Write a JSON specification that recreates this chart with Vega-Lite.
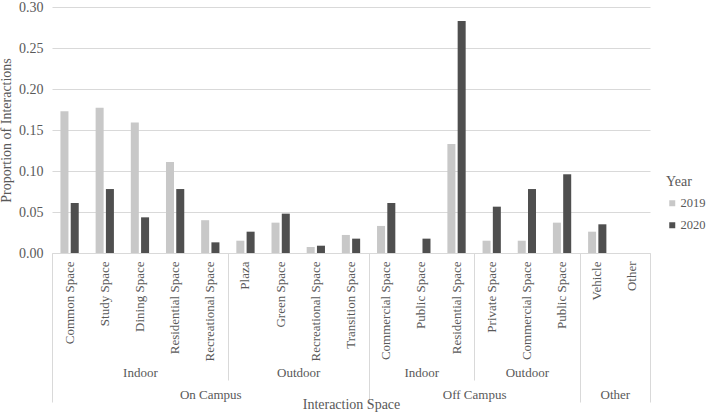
{
  "$schema": "https://vega.github.io/schema/vega-lite/v6.json",
  "width": 598,
  "height": 246,
  "autosize": {"type": "none"},
  "padding": {"left": 52, "top": 7, "right": 58, "bottom": 163},
  "config": {
    "font": "Times New Roman",
    "view": {"stroke": null},
    "axis": {"labelColor": "#595959", "titleColor": "#595959", "labelFont": "Times New Roman", "titleFont": "Times New Roman", "titleFontWeight": "normal", "labelFontSize": 13, "titleFontSize": 14},
    "legend": {"labelColor": "#595959", "titleColor": "#595959", "titleFontWeight": "normal", "labelFont": "Times New Roman", "titleFont": "Times New Roman"}
  },
  "datasets": {
    "bars": [
      {"cat": "On Campus|Indoor|Common Space", "year": "2019", "value": 0.173},
      {"cat": "On Campus|Indoor|Common Space", "year": "2020", "value": 0.061},
      {"cat": "On Campus|Indoor|Study Space", "year": "2019", "value": 0.177},
      {"cat": "On Campus|Indoor|Study Space", "year": "2020", "value": 0.078},
      {"cat": "On Campus|Indoor|Dining Space", "year": "2019", "value": 0.159},
      {"cat": "On Campus|Indoor|Dining Space", "year": "2020", "value": 0.0435},
      {"cat": "On Campus|Indoor|Residential Space", "year": "2019", "value": 0.111},
      {"cat": "On Campus|Indoor|Residential Space", "year": "2020", "value": 0.078},
      {"cat": "On Campus|Indoor|Recreational Space", "year": "2019", "value": 0.040},
      {"cat": "On Campus|Indoor|Recreational Space", "year": "2020", "value": 0.013},
      {"cat": "On Campus|Outdoor|Plaza", "year": "2019", "value": 0.015},
      {"cat": "On Campus|Outdoor|Plaza", "year": "2020", "value": 0.026},
      {"cat": "On Campus|Outdoor|Green Space", "year": "2019", "value": 0.037},
      {"cat": "On Campus|Outdoor|Green Space", "year": "2020", "value": 0.048},
      {"cat": "On Campus|Outdoor|Recreational Space", "year": "2019", "value": 0.0073},
      {"cat": "On Campus|Outdoor|Recreational Space", "year": "2020", "value": 0.0089},
      {"cat": "On Campus|Outdoor|Transition Space", "year": "2019", "value": 0.022},
      {"cat": "On Campus|Outdoor|Transition Space", "year": "2020", "value": 0.0175},
      {"cat": "Off Campus|Indoor|Commercial Space", "year": "2019", "value": 0.033},
      {"cat": "Off Campus|Indoor|Commercial Space", "year": "2020", "value": 0.061},
      {"cat": "Off Campus|Indoor|Public Space", "year": "2019", "value": 0},
      {"cat": "Off Campus|Indoor|Public Space", "year": "2020", "value": 0.0175},
      {"cat": "Off Campus|Indoor|Residential Space", "year": "2019", "value": 0.133},
      {"cat": "Off Campus|Indoor|Residential Space", "year": "2020", "value": 0.283},
      {"cat": "Off Campus|Outdoor|Private Space", "year": "2019", "value": 0.015},
      {"cat": "Off Campus|Outdoor|Private Space", "year": "2020", "value": 0.0565},
      {"cat": "Off Campus|Outdoor|Commercial Space", "year": "2019", "value": 0.015},
      {"cat": "Off Campus|Outdoor|Commercial Space", "year": "2020", "value": 0.078},
      {"cat": "Off Campus|Outdoor|Public Space", "year": "2019", "value": 0.037},
      {"cat": "Off Campus|Outdoor|Public Space", "year": "2020", "value": 0.096},
      {"cat": "Other|Other|Vehicle", "year": "2019", "value": 0.026},
      {"cat": "Other|Other|Vehicle", "year": "2020", "value": 0.035},
      {"cat": "Other|Other|Other", "year": "2019", "value": 0},
      {"cat": "Other|Other|Other", "year": "2020", "value": 0}
    ],
    "anchor": [{"p": 0}]
  },
  "layer": [
    {
      "data": {"name": "bars"},
      "mark": {"type": "bar"},
      "encoding": {
        "x": {
          "field": "cat", "type": "nominal", "sort": null,
          "scale": {"paddingInner": 0.48, "paddingOuter": 0.24},
          "axis": {"title": null, "labelAngle": -90, "labelPadding": 8, "ticks": false, "domain": true, "domainColor": "#d9d9d9", "labelExpr": "split(datum.label, '|')[2]", "labelFont": "Times New Roman", "labelFontSize": 13}
        },
        "xOffset": {"field": "year", "type": "nominal", "scale": {"paddingInner": 0.22}},
        "y": {
          "field": "value", "type": "quantitative",
          "scale": {"domain": [0, 0.3], "nice": false},
          "axis": {"title": "Proportion of Interactions", "values": [0, 0.05, 0.1, 0.15, 0.2, 0.25, 0.3], "format": ".2f", "grid": true, "gridColor": "#d9d9d9", "domain": false, "ticks": false, "labelPadding": 9, "labelFont": "Times New Roman", "labelFontSize": 14, "titleFont": "Times New Roman", "titleFontSize": 14, "titlePadding": 5}
        },
        "color": {
          "field": "year", "type": "nominal",
          "scale": {"domain": ["2019", "2020"], "range": ["#c8c8c8", "#4f4f4f"]},
          "legend": {"title": "Year", "orient": "none", "legendX": 614, "legendY": 168, "titleFont": "Times New Roman", "labelFont": "Times New Roman", "titleFontSize": 14, "labelFontSize": 12.5, "symbolType": "square", "symbolSize": 36, "symbolStrokeWidth": 0, "rowPadding": 9, "titlePadding": 8, "labelOffset": 2}
        }
      }
    },
    {
      "data": {"name": "anchor"},
      "mark": {"type": "point", "opacity": 0},
      "encoding": {
        "x": {"field": "p", "type": "quantitative", "scale": {"domain": [0, 17], "nice": false, "zero": false},
          "axis": {"orient": "bottom", "values": [5, 12], "labels": false, "domain": false, "grid": false, "ticks": true, "tickSize": 127, "tickColor": "#d9d9d9", "title": null}}
      }
    },
    {
      "data": {"name": "anchor"},
      "mark": {"type": "point", "opacity": 0},
      "encoding": {
        "x": {"field": "p", "type": "quantitative", "scale": {"domain": [0, 17], "nice": false, "zero": false},
          "axis": {"orient": "bottom", "values": [0, 9, 15, 17], "labels": false, "domain": false, "grid": false, "ticks": true, "tickSize": 149, "tickColor": "#d9d9d9", "title": null}}
      }
    },
    {
      "data": {"name": "anchor"},
      "mark": {"type": "point", "opacity": 0},
      "encoding": {
        "x": {"field": "p", "type": "quantitative", "scale": {"domain": [0, 17], "nice": false, "zero": false},
          "axis": {"orient": "bottom", "offset": 113, "values": [2.5, 7, 10.5, 13.5], "labelExpr": "datum.value < 5 ? 'Indoor' : datum.value < 9 ? 'Outdoor' : datum.value < 12 ? 'Indoor' : 'Outdoor'", "domain": false, "grid": false, "ticks": false, "tickSize": 0, "labelPadding": 0, "labelFont": "Times New Roman", "labelFontSize": 13, "labelFlush": false, "labelOverlap": false, "title": null}}
      }
    },
    {
      "data": {"name": "anchor"},
      "mark": {"type": "point", "opacity": 0},
      "encoding": {
        "x": {"field": "p", "type": "quantitative", "scale": {"domain": [0, 17], "nice": false, "zero": false},
          "axis": {"orient": "bottom", "offset": 135, "values": [4.5, 12, 16], "labelExpr": "datum.value < 9 ? 'On Campus' : datum.value < 15 ? 'Off Campus' : 'Other'", "domain": false, "grid": false, "ticks": false, "tickSize": 0, "labelPadding": 0, "labelFont": "Times New Roman", "labelFontSize": 13, "labelFlush": false, "labelOverlap": false, "title": "Interaction Space", "titleFont": "Times New Roman", "titleFontSize": 14, "titlePadding": -4}}
      }
    }
  ],
  "resolve": {"scale": {"x": "independent"}, "axis": {"x": "independent"}}
}
